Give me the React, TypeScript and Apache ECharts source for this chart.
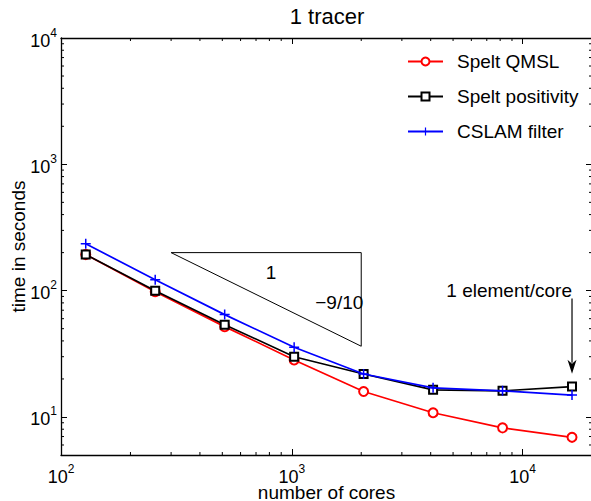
import React, { useEffect, useRef } from 'react';
import * as echarts from 'echarts';

const FONT = '"Liberation Sans", Arial, Helvetica, sans-serif';

const cores = [128, 256, 512, 1024, 2048, 4096, 8192, 16384];
const speltQmsl = [193, 98, 51.9, 28.3, 15.9, 10.8, 8.2, 6.9];
const speltPositivity = [193, 100, 53.8, 30.0, 21.9, 16.4, 16.1, 17.4];
const cslamFilter = [235, 122, 64.6, 35.6, 21.9, 17.0, 16.1, 14.9];
const seriesNames = ['Spelt QMSL', 'Spelt positivity', 'CSLAM filter'];
const seriesColors = ['#ff0000', '#000000', '#0000ff'];

const xRange = [100, 20000];
const yRange = [5, 10000];

const slopeTriangle = [
  [300, 200],
  [2000, 200],
  [2000, 36.3],
  [300, 200],
];
const annotationTexts = ['1', '\u22129/10', '1 element/core'];
const annotationPoints = [
  [813, 140],
  [1607, 80.8],
  [16384, 100],
];
const annotationAligns = ['center', 'center', 'right'];
const arrowSegment = [[16384, 86.5, 16384, 22]];

const minorMultipliers = [2, 3, 4, 5, 6, 7, 8, 9];
function minorTicks(lo: number, hi: number): number[] {
  const out: number[] = [];
  for (let e = Math.floor(Math.log10(lo)); e <= Math.ceil(Math.log10(hi)); e++) {
    for (const m of minorMultipliers) {
      const v = m * Math.pow(10, e);
      if (v > lo * 1.0001 && v < hi * 0.9999) out.push(v);
    }
  }
  return out;
}
const xMinor = minorTicks(xRange[0], xRange[1]);
const yMinor = minorTicks(yRange[0], yRange[1]);

function powLabel(v: number): string {
  const l = Math.log10(v);
  const e = Math.round(l);
  if (Math.abs(l - e) > 1e-6) return '';
  return '{b|10}{s|' + e + '}';
}

const richLabel = {
  b: { fontSize: 18, fontFamily: FONT, color: '#000', padding: [5, 0, 0, 0], verticalAlign: 'bottom' },
  s: { fontSize: 12, fontFamily: FONT, color: '#000', verticalAlign: 'top' },
};

export default function App() {
  const ref = useRef<HTMLDivElement>(null);
  useEffect(() => {
    if (!ref.current) return;
    const chart = echarts.init(ref.current, null, { renderer: 'svg' });
    const axisCommon = {
      type: 'log',
      logBase: 10,
      axisLine: { show: true, lineStyle: { color: '#000', width: 1.3 } },
      axisTick: { show: true, inside: true, length: 6, lineStyle: { color: '#000', width: 1 } },
      splitLine: { show: false },
      minorTick: { show: false },
    };
    const lineSeries = [speltQmsl, speltPositivity, cslamFilter].map((vals, i) => ({
      name: seriesNames[i],
      type: 'line',
      data: cores.map((c, j) => [c, vals[j]]),
      symbol: [
        'emptyCircle',
        'emptyRect',
        'path://M3.4,0H4.6V3.4H8V4.6H4.6V8H3.4V4.6H0V3.4H3.4Z',
      ][i],
      symbolSize: [9, 8, 10][i],
      showAllSymbol: true,
      color: seriesColors[i],
      lineStyle: { color: seriesColors[i], width: 1.7 },
      itemStyle: { color: seriesColors[i], borderColor: seriesColors[i], borderWidth: [1.5, 1.5, 0][i] },
      z: 3 + i,
    }));

    const option: any = {
      animation: false,
      backgroundColor: '#fff',
      title: {
        text: '1 tracer',
        left: 327,
        top: 5,
        padding: 0,
        textAlign: 'center',
        textStyle: { fontFamily: FONT, fontSize: 22, fontWeight: 'normal', color: '#000' },
      },
      legend: {
        data: seriesNames,
        orient: 'vertical',
        left: 407,
        top: 52,
        padding: 0,
        itemWidth: 35,
        itemHeight: 10,
        itemGap: 16,
        selectedMode: false,
        textStyle: { fontFamily: FONT, fontSize: 19, color: '#000', padding: [0, 0, 0, 9] },
      },
      grid: { left: 61, right: -1, top: 38, bottom: 46, containLabel: false, outerBoundsMode: 'none' },
      xAxis: [
        {
          ...axisCommon,
          position: 'bottom',
          min: xRange[0],
          max: xRange[1],
          axisLabel: { show: true, margin: 8, formatter: powLabel, rich: richLabel },
          name: 'number of cores',
          nameLocation: 'middle',
          nameGap: 28,
          nameMoveOverlap: false,
          nameTextStyle: { fontFamily: FONT, fontSize: 19, color: '#000', verticalAlign: 'top' },
        },
        {
          ...axisCommon,
          position: 'top',
          min: xRange[0],
          max: xRange[1],
          axisLabel: { show: false },
        },
      ],
      yAxis: [
        {
          ...axisCommon,
          position: 'left',
          min: yRange[0],
          max: yRange[1],
          axisLabel: { show: true, margin: 4, formatter: powLabel, rich: richLabel },
          name: 'time in seconds',
          nameLocation: 'middle',
          nameRotate: 90,
          nameGap: 33,
          nameMoveOverlap: false,
          nameTextStyle: { fontFamily: FONT, fontSize: 19, color: '#000' },
        },
        {
          ...axisCommon,
          position: 'right',
          min: yRange[0],
          max: yRange[1],
          axisLabel: { show: false },
        },
      ],
      series: [
        ...lineSeries,
        {
          name: 'slope',
          type: 'line',
          data: slopeTriangle,
          symbol: 'none',
          silent: true,
          lineStyle: { color: '#000', width: 1 },
          z: 2,
        },
        {
          name: 'annotations',
          type: 'scatter',
          symbolSize: 0,
          silent: true,
          itemStyle: { color: '#000', opacity: 1 },
          data: annotationPoints.map((p, i) => ({
            value: p,
            name: annotationTexts[i],
            label: { align: annotationAligns[i] },
          })),
          label: {
            show: true,
            position: 'inside',
            formatter: '{b}',
            fontFamily: FONT,
            fontSize: 19,
            color: '#000',
            opacity: 1,
            textBorderWidth: 0,
            textBorderColor: 'transparent',
          },
          z: 6,
        },
        {
          name: 'arrow',
          type: 'custom',
          silent: true,
          data: arrowSegment,
          encode: { x: [0, 2], y: [1, 3] },
          renderItem: (params: any, api: any) => {
            const s = api.coord([api.value(0), api.value(1)]);
            const t = api.coord([api.value(2), api.value(3)]);
            const headLen = 14;
            const headW = 4.5;
            return {
              type: 'group',
              children: [
                {
                  type: 'line',
                  shape: { x1: s[0], y1: s[1], x2: t[0], y2: t[1] - headLen + 3 },
                  style: { stroke: '#000', lineWidth: 1.2 },
                },
                {
                  type: 'polygon',
                  shape: {
                    points: [
                      [t[0] - headW, t[1] - headLen],
                      [t[0], t[1] - headLen + 4],
                      [t[0] + headW, t[1] - headLen],
                      [t[0], t[1]],
                    ],
                  },
                  style: { fill: '#000' },
                },
              ],
            };
          },
          z: 6,
        },
        {
          name: 'xMinorTicks',
          type: 'custom',
          silent: true,
          data: xMinor.map((v) => [v, 100]),
          renderItem: (params: any, api: any) => {
            const cs = params.coordSys;
            const x = api.coord([api.value(0), 100])[0];
            const yb = cs.y + cs.height;
            return {
              type: 'group',
              children: [
                { type: 'line', shape: { x1: x, y1: yb, x2: x, y2: yb - 3 }, style: { stroke: '#000', lineWidth: 1 } },
                { type: 'line', shape: { x1: x, y1: cs.y, x2: x, y2: cs.y + 3 }, style: { stroke: '#000', lineWidth: 1 } },
              ],
            };
          },
          z: 7,
        },
        {
          name: 'yMinorTicks',
          type: 'custom',
          silent: true,
          data: yMinor.map((v) => [1000, v]),
          renderItem: (params: any, api: any) => {
            const cs = params.coordSys;
            const y = api.coord([1000, api.value(1)])[1];
            const xr = cs.x + cs.width;
            return {
              type: 'group',
              children: [
                { type: 'line', shape: { x1: cs.x, y1: y, x2: cs.x + 3, y2: y }, style: { stroke: '#000', lineWidth: 1 } },
                { type: 'line', shape: { x1: xr, y1: y, x2: xr - 3, y2: y }, style: { stroke: '#000', lineWidth: 1 } },
              ],
            };
          },
          z: 7,
        },
      ],
    };
    chart.setOption(option);
    return () => chart.dispose();
  }, []);
  return (
    <div
      ref={ref}
      style={{ position: 'fixed', left: 0, top: 0, width: 591, height: 501, background: '#fff' }}
    />
  );
}
